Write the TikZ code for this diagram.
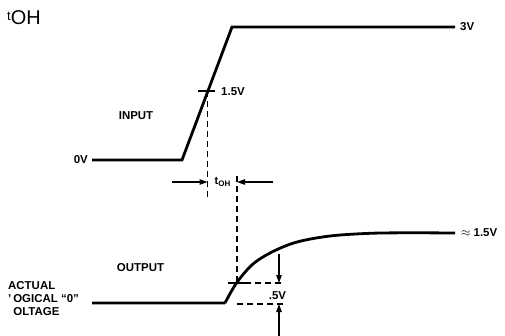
\documentclass[tikz,border=0pt]{standalone}
\usepackage{fontspec}
\setmainfont{Liberation Sans}
\usetikzlibrary{arrows.meta}
\begin{document}
\begin{tikzpicture}[x=1bp,y=-1bp,
  signal/.style={line width=2.8bp,line join=miter},
  tick/.style={line width=1.1bp},
  guide/.style={line width=1.2bp,dash pattern=on 6bp off 4bp},
  dimarrow/.style={line width=1.1bp,-{Triangle[length=8bp,width=5.5bp]}},
  lbl/.style={font=\fontsize{11.5}{12}\selectfont\bfseries,inner sep=0pt}]
\useasboundingbox (0,0) rectangle (505,335);
% title
\node[anchor=west,inner sep=0pt,font=\fontsize{20}{20}\selectfont] (title) at (7,18) {\raisebox{0.45ex}{\fontsize{13}{13}\selectfont t}OH};
% input waveform
\coordinate (i0) at (92,160);
\coordinate (i1) at (182,160);
\coordinate (i2) at (232,27);
\coordinate (i3) at (455,27);
\draw[signal] (i0) -- (i1) -- (i2) -- (i3);
\node[lbl,anchor=east] (l0v) at (88,160) {0V};
\node[lbl,anchor=west] (l3v) at (460,27) {3V};
\node[lbl] (linput) at (136,116) {INPUT};
% input crossing
\coordinate (ix) at (207.5,91);
\coordinate (ixl) at (198,91);
\coordinate (ixr) at (215,91);
\draw[tick] (ixl) -- (ixr);
\node[lbl,anchor=west] (l15) at (221,92) {1.5V};
\coordinate (ixb) at (207.5,197);
\draw[guide] (ix) -- (ixb);
% tOH measurement
\coordinate (al) at (172,182);
\coordinate (ala) at (207.5,182);
\coordinate (ar) at (273,182);
\coordinate (ara) at (237,182);
\draw[dimarrow] (al) -- (ala);
\draw[dimarrow] (ar) -- (ara);
\node[inner sep=0pt,font=\fontsize{11}{11}\selectfont\bfseries] (ltoh) at (222.5,182) {t\raisebox{-0.35ex}{\fontsize{8}{8}\selectfont\bfseries OH}};
% output waveform
\coordinate (o0) at (92,303);
\coordinate (o1) at (225,303);
\coordinate (oe) at (455,233);
\draw[signal] (o0) -- (o1)
  plot[smooth,tension=0.55] coordinates {(225,303) (236.5,283) (253,264) (273,251.5) (297,242) (330,236) (370,233.3) (410,232.8) (455,233)};
\node[lbl,anchor=west] (l15b) at (461,233) {$\approx$ 1.5V};
\node[lbl] (loutput) at (140.5,268) {OUTPUT};
\node[lbl,anchor=north west,align=left] (lactual) at (8,281) {ACTUAL\\[1pt]'\,OGICAL ``0''\\[1pt]\hspace{0.45em}OLTAGE};
% output crossing
\coordinate (ox) at (237,283);
\coordinate (oxl) at (228,283);
\coordinate (oxr) at (245,283);
\draw[tick] (oxl) -- (oxr);
\coordinate (oxt) at (237,176);
\draw[guide] (oxt) -- (ox);
\coordinate (oxe) at (284,283);
\draw[guide] (oxr) -- (oxe);
\coordinate (obl) at (237,304);
\coordinate (obr) at (284,304);
\draw[guide] (obl) -- (obr);
% .5V dimension
\coordinate (dt) at (279,254);
\coordinate (dta) at (279,283);
\coordinate (db) at (279,336);
\coordinate (dba) at (279,304);
\draw[dimarrow] (dt) -- (dta);
\draw[dimarrow] (db) -- (dba);
\node[lbl] (l05) at (277.5,295.5) {.5V};
\end{tikzpicture}
\end{document}
